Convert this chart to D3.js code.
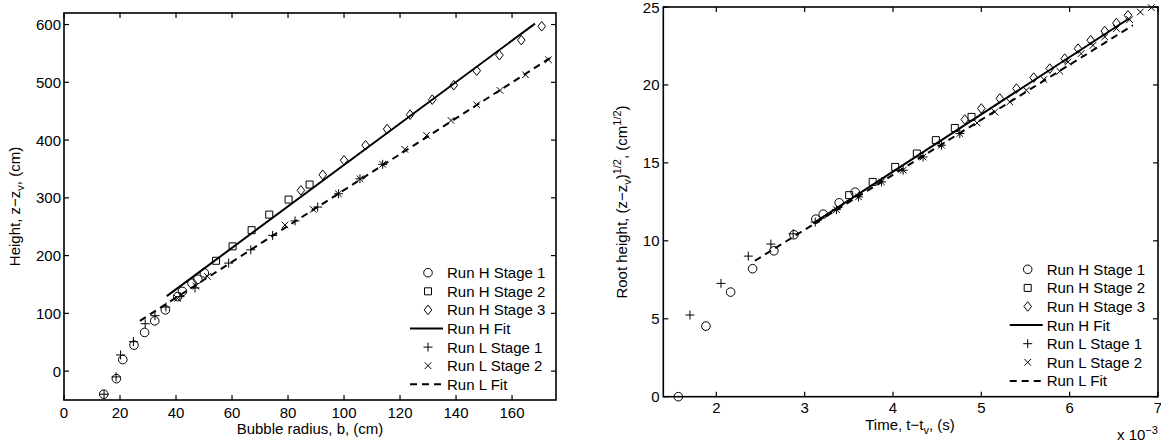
<!DOCTYPE html>
<html>
<head>
<meta charset="utf-8">
<script src="https://cdn.jsdelivr.net/npm/d3@7"></script>
<style>
body { margin: 0; background: #fff; }
text { font-family: "Liberation Sans", Arial, Helvetica, sans-serif; font-size: 15px; fill: #000; }
</style>
</head>
<body>
<svg id="chart" width="1161" height="444"></svg>
<script>

// LEFT PANEL DATA: bubble radius b (cm) vs height z-zv (cm)

const runHS1B = [14.2, 18.7, 21, 25, 28.8, 32.4, 36.2, 40.6, 42.3, 45.7, 47.8, 50.1]
const runHS1Z = [-40, -13, 20, 45, 67, 87, 106, 129, 138, 152, 159, 170]
const runHS2B = [54.3, 60.2, 67, 73.3, 80.2, 87.7]
const runHS2Z = [191, 216, 244, 271, 297, 323]
const runHS3B = [84.6, 92.4, 100, 107.7, 115.4, 123.6, 131.5, 139.2, 147.4, 155.5, 163.3, 170.6]
const runHS3Z = [313, 340, 365, 391, 419, 444, 470, 495, 520, 547, 573, 597]
const runHFitB = [36.7, 168.2]
const runHFitZ = [129.8, 601.6]
const runLS1B = [14.3, 18.6, 20.2, 24.8, 29, 32.5, 36.4, 41.4, 46.8, 58.8, 66.7, 74.5, 82.5, 90.6, 98, 105.7, 113.8]
const runLS1Z = [-40, -10, 28, 51, 82, 96, 111, 129, 144, 187, 210, 235, 260, 284, 307, 333, 358]
const runLS2B = [40.5, 47.1, 51.2, 78.9, 89, 98, 105.7, 113.8, 121.7, 129.5, 138.2, 147.4, 155.7, 164.8, 173]
const runLS2Z = [126, 147, 164, 253, 280, 307, 333, 358, 384, 408, 434, 461, 486, 513, 539]
const runLFitB = [27.1, 173.8]
const runLFitZ = [87, 542.7]

const leftXTicks = [0, 20, 40, 60, 80, 100, 120, 140, 160]
const leftYTicks = [0, 100, 200, 300, 400, 500, 600]

// RIGHT PANEL DATA: time t-tv (x 10^-3 s) vs root height (cm^1/2)

const timeHS1 = [1.57, 1.883, 2.162, 2.411, 2.652, 2.879, 3.127, 3.21, 3.391, 3.572]
const rootHS1 = [0, 4.53, 6.71, 8.21, 9.36, 10.39, 11.39, 11.71, 12.44, 13.12]
const timeHS2 = [3.504, 3.77, 4.025, 4.27, 4.485, 4.70, 4.889]
const rootHS2 = [12.93, 13.78, 14.74, 15.6, 16.46, 17.24, 17.95]
const timeHS3 = [4.813, 5.0, 5.209, 5.398, 5.593, 5.775, 5.944, 6.095, 6.238, 6.397, 6.529, 6.66]
const rootHS3 = [17.78, 18.49, 19.13, 19.77, 20.47, 21.05, 21.69, 22.33, 22.87, 23.46, 23.97, 24.47]
const timeHFit = [3.097, 6.672]
const rootHFit = [11.12, 24.26]
const timeLS1 = [1.702, 2.053, 2.362, 2.618, 2.87, 3.12, 3.36, 3.61, 3.87, 4.115, 4.34, 4.549, 4.756]
const rootLS1 = [5.24, 7.27, 9.02, 9.79, 10.45, 11.2, 12.0, 12.82, 13.78, 14.53, 15.38, 16.13, 16.88]
const timeLS2 = [3.36, 3.61, 3.87, 4.115, 4.34, 4.549, 4.756, 4.952, 5.152, 5.322, 5.51, 5.707, 5.888, 5.98, 6.13, 6.264, 6.397, 6.529, 6.679, 6.80, 6.925]
const rootLS2 = [12.0, 12.82, 13.78, 14.53, 15.38, 16.13, 16.88, 17.56, 18.27, 18.91, 19.66, 20.35, 20.88, 21.47, 22.01, 22.54, 23.08, 23.62, 24.19, 24.68, 24.96]
const timeLFit = [2.437, 6.717]
const rootLFit = [8.72, 23.83]

const rightXTicks = [2, 3, 4, 5, 6, 7]
const rightYTicks = [0, 5, 10, 15, 20, 25]

const legendNames = ['Run H Stage 1', 'Run H Stage 2', 'Run H Stage 3', 'Run H Fit', 'Run L Stage 1', 'Run L Stage 2', 'Run L Fit']
const legendKinds = ['o', 's', 'd', 'solid', '+', 'x', 'dash']

//-----------------------------------------

let svg = d3.select('#chart')

function markerPath(kind) {
	if (kind == 'o') { let r = 4.3; return `M${-r},0a${r},${r} 0 1,0 ${2 * r},0a${r},${r} 0 1,0 ${-2 * r},0Z` }
	if (kind == 's') { let h = 3.5; return `M${-h},${-h}H${h}V${h}H${-h}Z` }
	if (kind == 'd') { return `M0,-4.8L3.8,0L0,4.8L-3.8,0Z` }
	if (kind == '+') { let h = 4.5; return `M${-h},0H${h}M0,${-h}V${h}` }
	if (kind == 'x') { let h = 3.3; return `M${-h},${-h}L${h},${h}M${-h},${h}L${h},${-h}` }
}

// text with sub / superscripts: parts = [[string, 'sub'|'sup'|null], ...]
function richText(sel, parts) {
	let shift = 0
	parts.forEach(p => {
		let target = p[1] == 'sub' ? 4 : p[1] == 'sup' ? -6 : 0
		let t = sel.append('tspan').text(p[0]).attr('dy', target - shift)
		if (p[1]) t.style('font-size', '11px')
		shift = target
	})
}

function drawPanel(cfg) {

	let x = d3.scaleLinear().domain(cfg.xDomain).range([cfg.left, cfg.right])
	let y = d3.scaleLinear().domain(cfg.yDomain).range([cfg.bottom, cfg.top])

	let g = svg.append('g')

	// box with inward ticks on all four sides
	g.append('rect')
	.attr('x', cfg.left).attr('y', cfg.top)
	.attr('width', cfg.right - cfg.left).attr('height', cfg.bottom - cfg.top)
	.style('fill', 'none').style('stroke', '#000').style('stroke-width', 1.6)

	let tickLen = 5
	cfg.xTicks.forEach(v => {
		g.append('line').attr('x1', x(v)).attr('x2', x(v)).attr('y1', cfg.bottom).attr('y2', cfg.bottom - tickLen)
		.style('stroke', '#000').style('stroke-width', 1.2)
		g.append('line').attr('x1', x(v)).attr('x2', x(v)).attr('y1', cfg.top).attr('y2', cfg.top + tickLen)
		.style('stroke', '#000').style('stroke-width', 1.2)
		g.append('text').attr('x', x(v)).attr('y', cfg.xLabelY).attr('text-anchor', 'middle').text(v)
	})
	cfg.yTicks.forEach(v => {
		g.append('line').attr('x1', cfg.left).attr('x2', cfg.left + tickLen).attr('y1', y(v)).attr('y2', y(v))
		.style('stroke', '#000').style('stroke-width', 1.2)
		g.append('line').attr('x1', cfg.right).attr('x2', cfg.right - tickLen).attr('y1', y(v)).attr('y2', y(v))
		.style('stroke', '#000').style('stroke-width', 1.2)
		g.append('text').attr('x', cfg.yLabelX).attr('y', y(v) + 5.5).attr('text-anchor', 'end').text(v)
	})

	// fit lines
	let line = d3.line().x(d => x(d[0])).y(d => y(d[1]))
	g.append('path').attr('d', line(d3.zip(cfg.hFit[0], cfg.hFit[1])))
	.style('fill', 'none').style('stroke', '#000').style('stroke-width', 2)
	g.append('path').attr('d', line(d3.zip(cfg.lFit[0], cfg.lFit[1])))
	.style('fill', 'none').style('stroke', '#000').style('stroke-width', 2).style('stroke-dasharray', '7,5')

	// markers
	cfg.series.forEach(s => {
		g.append('g').selectAll('path')
		.data(d3.zip(s.xs, s.ys))
		.enter()
		.append('path')
		.attr('transform', d => `translate(${x(d[0])},${y(d[1])})`)
		.attr('d', markerPath(s.kind))
		.style('fill', 'none').style('stroke', '#000').style('stroke-width', 1)
	})

	// legend
	legendNames.forEach((name, i) => {
		let cy = cfg.legendY + i * 18.6
		let k = legendKinds[i]
		if (k == 'solid' || k == 'dash') {
			g.append('line').attr('x1', cfg.legendX - 18).attr('x2', cfg.legendX + 15).attr('y1', cy).attr('y2', cy)
			.style('stroke', '#000').style('stroke-width', 2).style('stroke-dasharray', k == 'dash' ? '7,5' : null)
		} else {
			g.append('path').attr('transform', `translate(${cfg.legendX},${cy})`).attr('d', markerPath(k))
			.style('fill', 'none').style('stroke', '#000').style('stroke-width', 1)
		}
		g.append('text').attr('x', cfg.legendX + 19).attr('y', cy + 5.5).text(name)
	})

	return g
}

// LEFT PANEL

let leftPanel = drawPanel({
	left: 64, right: 556, top: 13, bottom: 400,
	xDomain: [0, 175.7], yDomain: [-50, 620],
	xTicks: leftXTicks, yTicks: leftYTicks,
	xLabelY: 418, yLabelX: 61,
	hFit: [runHFitB, runHFitZ], lFit: [runLFitB, runLFitZ],
	series: [
		{ xs: runHS1B, ys: runHS1Z, kind: 'o' },
		{ xs: runHS2B, ys: runHS2Z, kind: 's' },
		{ xs: runHS3B, ys: runHS3Z, kind: 'd' },
		{ xs: runLS1B, ys: runLS1Z, kind: '+' },
		{ xs: runLS2B, ys: runLS2Z, kind: 'x' }
	],
	legendX: 428, legendY: 272.7
})

leftPanel.append('text').attr('x', 310).attr('y', 434).attr('text-anchor', 'middle').text('Bubble radius, b, (cm)')

richText(
	leftPanel.append('text').attr('transform', 'translate(20,206.5) rotate(-90)').attr('text-anchor', 'middle'),
	[['Height, z\u2212z', null], ['v', 'sub'], [', (cm)', null]]
)

// RIGHT PANEL

let rightPanel = drawPanel({
	left: 663.3, right: 1158, top: 7, bottom: 396.7,
	xDomain: [1.4, 7], yDomain: [0, 25],
	xTicks: rightXTicks, yTicks: rightYTicks,
	xLabelY: 413, yLabelX: 659.5,
	hFit: [timeHFit, rootHFit], lFit: [timeLFit, rootLFit],
	series: [
		{ xs: timeHS1, ys: rootHS1, kind: 'o' },
		{ xs: timeHS2, ys: rootHS2, kind: 's' },
		{ xs: timeHS3, ys: rootHS3, kind: 'd' },
		{ xs: timeLS1, ys: rootLS1, kind: '+' },
		{ xs: timeLS2, ys: rootLS2, kind: 'x' }
	],
	legendX: 1027.7, legendY: 269.3
})

richText(
	rightPanel.append('text').attr('x', 910).attr('y', 430).attr('text-anchor', 'middle'),
	[['Time, t\u2212t', null], ['v', 'sub'], [', (s)', null]]
)

richText(
	rightPanel.append('text').attr('transform', 'translate(627,202) rotate(-90)').attr('text-anchor', 'middle'),
	[['Root height, (z\u2212z', null], ['v', 'sub'], [')', null], ['1/2', 'sup'], [', (cm', null], ['1/2', 'sup'], [')', null]]
)

richText(
	rightPanel.append('text').attr('x', 1117).attr('y', 440),
	[['x 10', null], ['\u22123', 'sup']]
)

</script>
</body>
</html>
